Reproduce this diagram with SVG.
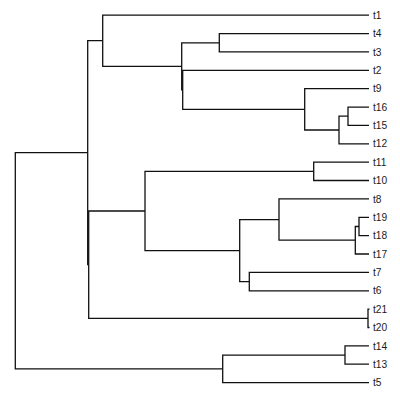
<svg xmlns="http://www.w3.org/2000/svg" width="400" height="399" viewBox="0 0 400 399">
<style>
.e{fill:none;stroke:#111;stroke-width:1.3;stroke-linecap:butt;stroke-linejoin:miter}
.t{font-family:"Liberation Sans",Arial,sans-serif;font-size:10.2px;fill:#1a1a1a}
</style>
<rect width="400" height="399" fill="#fff"/>
<g id="connectors">
<path class="e" d="M15.3 260.8V152.7H87.7M15.3 260.8V368.8H222.7"/>
<path class="e" d="M87.7 152.7V40.7H102.7M87.7 152.7V264.6H88.7"/>
<path class="e" d="M102.7 40.7V15.2H369M102.7 40.7V66.3H181.7"/>
<path class="e" d="M181.7 66.3V42.8H219.3M181.7 66.3V89.8H182.7"/>
<path class="e" d="M219.3 42.8V33.6H369M219.3 42.8V51.9H369"/>
<path class="e" d="M182.7 89.8V70.3H369M182.7 89.8V109.3H304.7"/>
<path class="e" d="M304.7 109.3V88.7H369M304.7 109.3V130H339"/>
<path class="e" d="M339 130V116.2H348M339 130V143.8H369"/>
<path class="e" d="M348 116.2V107.05H369M348 116.2V125.4H369"/>
<path class="e" d="M88.7 264.6V211H145M88.7 264.6V318.3H368"/>
<path class="e" d="M145 211V171.3H313.7M145 211V250.6H239.7"/>
<path class="e" d="M313.7 171.3V162.2H369M313.7 171.3V180.5H369"/>
<path class="e" d="M239.7 250.6V219.6H279M239.7 250.6V281.6H249.3"/>
<path class="e" d="M279 219.6V198.9H369M279 219.6V240.2H355.3"/>
<path class="e" d="M355.3 240.2V226.5H359M355.3 240.2V254H369"/>
<path class="e" d="M359 226.5V217.3H369M359 226.5V235.6H369"/>
<path class="e" d="M249.3 281.6V272.4H369M249.3 281.6V290.8H369"/>
<path class="e" d="M368 318.3V309.1H369.5M368 318.3V327.5H369.5"/>
<path class="e" d="M222.7 368.8V355.1H345M222.7 368.8V382.6H369"/>
<path class="e" d="M345 355.1V345.9H369M345 355.1V364.2H369"/>
</g>
<g id="t1"><text class="t" x="373" y="18.8">t1</text></g>
<g id="t4"><text class="t" x="373" y="37.2">t4</text></g>
<g id="t3"><text class="t" x="373" y="55.5">t3</text></g>
<g id="t2"><text class="t" x="373" y="73.9">t2</text></g>
<g id="t9"><text class="t" x="373" y="92.3">t9</text></g>
<g id="t16"><text class="t" x="373" y="110.6">t16</text></g>
<g id="t15"><text class="t" x="373" y="129">t15</text></g>
<g id="t12"><text class="t" x="373" y="147.4">t12</text></g>
<g id="t11"><text class="t" x="373" y="165.8">t11</text></g>
<g id="t10"><text class="t" x="373" y="184.1">t10</text></g>
<g id="t8"><text class="t" x="373" y="202.5">t8</text></g>
<g id="t19"><text class="t" x="373" y="220.9">t19</text></g>
<g id="t18"><text class="t" x="373" y="239.2">t18</text></g>
<g id="t17"><text class="t" x="373" y="257.6">t17</text></g>
<g id="t7"><text class="t" x="373" y="276">t7</text></g>
<g id="t6"><text class="t" x="373" y="294.4">t6</text></g>
<g id="t21"><text class="t" x="373" y="312.7">t21</text></g>
<g id="t20"><text class="t" x="373" y="331.1">t20</text></g>
<g id="t14"><text class="t" x="373" y="349.5">t14</text></g>
<g id="t13"><text class="t" x="373" y="367.8">t13</text></g>
<g id="t5"><text class="t" x="373" y="386.2">t5</text></g>
</svg>
